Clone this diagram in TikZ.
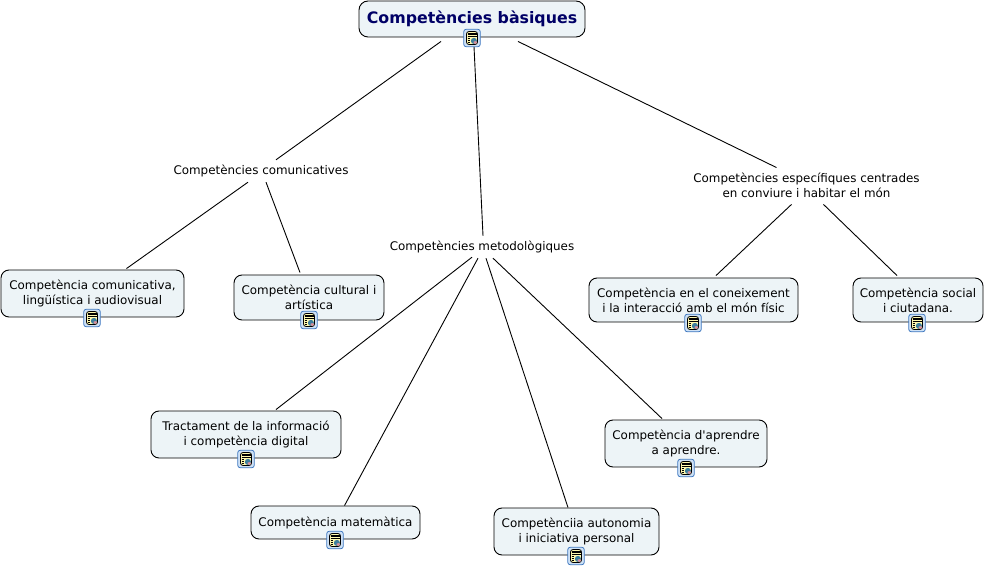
\documentclass[tikz,border=0pt]{standalone}
\usepackage{fontspec}
\newfontfamily\vfont{DejaVu Sans}
\definecolor{boxfill}{HTML}{EDF4F7}
\definecolor{rootink}{HTML}{000066}
\definecolor{iconblue}{HTML}{3F78C0}
\definecolor{iconrim}{HTML}{CFE2F6}
\definecolor{iconfill}{HTML}{FFF9B0}
\definecolor{iconpic}{HTML}{3E7F9E}
\definecolor{iconpink}{HTML}{D88F9C}
\tikzset{
  x=1bp,y=-1bp,
  concept/.style={draw=black,line width=0.9bp,rounded corners=8bp,fill=boxfill,align=center,inner sep=0pt,font=\vfont\fontsize{11.9bp}{14.8bp}\selectfont,text=black},
  rootbox/.style={concept,rounded corners=9bp,font=\vfont\fontsize{15.8bp}{20bp}\selectfont\bfseries,text=rootink},
  plain/.style={align=center,inner sep=0pt,font=\vfont\fontsize{11.9bp}{14.8bp}\selectfont,text=black},
  link/.style={draw=black,line width=0.9bp},
  iconbox/.style={draw=iconblue,line width=0.8bp,fill=iconrim,rounded corners=2.5bp,minimum width=16.5bp,minimum height=17.5bp,inner sep=0pt,
    path picture={
      \coordinate (pc) at (path picture bounding box.center);
      \fill[iconfill,draw=black,line width=0.8bp] ([shift={(-5.5bp,-6.5bp)}]pc) rectangle ([shift={(5.5bp,6.5bp)}]pc);
      \fill[iconpic] ([shift={(-1bp,-5.8bp)}]pc) rectangle ([shift={(4.8bp,0bp)}]pc);
      \fill[iconpink] ([shift={(1.5bp,-5.8bp)}]pc) rectangle ([shift={(4.8bp,-3bp)}]pc);
      \foreach \yy in {-4,-2.2,-0.4}{\draw[black,line width=0.6bp] ([shift={(-4.5bp,\yy bp)}]pc) -- ([shift={(-2bp,\yy bp)}]pc);}
      \foreach \yy in {1.6,3.4,5}{\draw[black,line width=0.6bp] ([shift={(-4.5bp,\yy bp)}]pc) -- ([shift={(4.5bp,\yy bp)}]pc);}
    }},
}
\begin{document}
\begin{tikzpicture}
\useasboundingbox (0,0) rectangle (986,568);
% text nodes
\node[plain] (c1) at (261,171) {Competències comunicatives};
\node[plain] (c2) at (482,247) {Competències metodològiques};
\node[plain] (c3) at (806.5,185) {Competències específiques centrades\\en conviure i habitar el món};
% boxes
\node[rootbox,minimum width=226bp,minimum height=36bp] (root) at (472,19) {\raisebox{1bp}{Competències bàsiques}};
\node[concept,minimum width=183bp,minimum height=47bp] (a) at (92.5,293.5) {Competència comunicativa,\\lingüística i audiovisual};
\node[concept,minimum width=150bp,minimum height=45bp] (b) at (309,297.5) {Competència cultural i\\artística};
\node[concept,minimum width=209bp,minimum height=44bp] (d) at (693.5,300) {Competència en el coneixement\\i la interacció amb el món físic};
\node[concept,minimum width=130bp,minimum height=44bp] (e) at (918,300) {Competència social\\i ciutadana.};
\node[concept,minimum width=190bp,minimum height=47bp] (f) at (246,434.5) {Tractament de la informació\\i competència digital};
\node[concept,minimum width=169bp,minimum height=33bp] (g) at (335.5,522.5) {Competència matemàtica};
\node[concept,minimum width=165bp,minimum height=47bp] (h) at (576.5,531.5) {Competènciia autonomia\\i iniciativa personal};
\node[concept,minimum width=162bp,minimum height=47bp] (i) at (686,443.5) {Competència d'aprendre\\a aprendre.};
% connectors
\draw[link] ([shift={(-31,4)}]root.south) -- ([shift={(15,-5)}]c1.north);
\draw[link] ([shift={(2,9)}]root.south) -- ([shift={(1,-5)}]c2.north);
\draw[link] ([shift={(46,4)}]root.south) -- ([shift={(-30,-5)}]c3.north);
\draw[link] ([shift={(-13,5)}]c1.south) -- ([shift={(34,-1)}]a.north);
\draw[link] ([shift={(5,5)}]c1.south) -- ([shift={(-9,-2)}]b.north);
\draw[link] ([shift={(-15,7)}]c3.south) -- ([shift={(22.5,-2)}]d.north);
\draw[link] ([shift={(17,7)}]c3.south) -- ([shift={(-21,-2)}]e.north);
\draw[link] ([shift={(-10,4)}]c2.south) -- ([shift={(30,-1)}]f.north);
\draw[link] ([shift={(-4,5)}]c2.south) -- ([shift={(9,0)}]g.north);
\draw[link] ([shift={(4,5)}]c2.south) -- ([shift={(-8.5,0)}]h.north);
\draw[link] ([shift={(11,5)}]c2.south) -- ([shift={(-24,-1)}]i.north);
% icons
\node[iconbox] (iroot) at (472,38) {};
\node[iconbox] (ia) at (92,318) {};
\node[iconbox] (ib) at (309,320) {};
\node[iconbox] (id) at (693,323) {};
\node[iconbox] (ie) at (917,323) {};
\node[iconbox] (if) at (246,459) {};
\node[iconbox] (ig) at (335,540) {};
\node[iconbox] (ih) at (576,556) {};
\node[iconbox] (ii) at (686,468) {};
\end{tikzpicture}
\end{document}
